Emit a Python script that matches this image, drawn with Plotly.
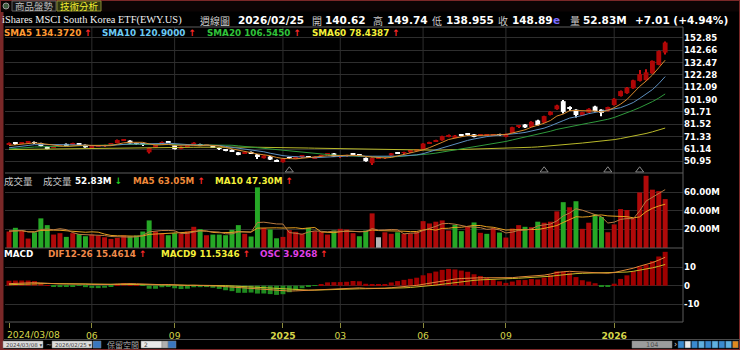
import numpy as np
import plotly.graph_objects as go

W, H = 740, 350

# ---------------- data ----------------
prior_close = [60.5, 61.0, 62.5, 61.5, 60.0, 59.5, 57.5, 58.5, 57.0, 58.0, 58.5, 60.0,
               59.5, 61.0, 59.5, 58.5, 59.5, 59.0, 61.0, 61.5, 63.0, 63.5, 64.5, 62.5,
               63.5, 62.0, 65.0, 64.5, 65.0, 63.0, 61.5, 59.5, 60.5, 61.5, 60.0, 61.0,
               58.5, 58.0, 57.0, 58.5, 56.5, 55.0, 58.5, 58.5, 60.5, 60.5, 60.0, 60.5,
               62.0, 63.0, 63.5, 61.0, 60.5, 58.5, 59.5, 62.0, 62.5, 63.5, 64.0, 64.9]
prior_volume = [19.5, 17.0, 22.0, 16.5, 18.0, 20.5, 15.5, 17.5, 19.0]

opens = [65.3, 66.2, 65.8, 66.5, 66.9, 66.1, 63.3, 62.5, 63.4, 65.4, 65.2, 65.9, 64.6, 62.8,
         63.2, 63.9, 65.3, 66.1, 68.3, 68.1, 65.9, 65.5, 58.5, 62.4, 65.7, 67.0, 64.3, 61.3,
         63.5, 64.3, 65.2, 64.0, 63.4, 62.0, 61.0, 60.5, 58.5, 57.6, 58.8, 56.7, 53.6, 55.0,
         52.2, 50.3, 54.4, 53.4, 54.9, 55.0, 53.8, 55.6, 56.8, 57.6, 54.9, 55.5, 57.6, 56.9,
         53.9, 49.5, 53.8, 54.0, 55.9, 58.3, 58.1, 59.0, 60.3, 61.1, 65.9, 67.8, 68.4, 71.2,
         71.0, 72.9, 73.3, 73.3, 72.6, 72.4, 72.6, 73.4, 71.2, 74.4, 79.7, 81.4, 79.4, 84.7,
         83.0, 89.3, 94.0, 100.6, 95.1, 93.6, 88.9, 91.2, 96.2, 93.6, 92.5, 97.4, 104.8, 107.2,
         111.2, 117.3, 118.0, 123.6, 130.5, 140.62]
highs = [66.5, 66.7, 66.9, 67.3, 67.4, 66.4, 63.7, 63.5, 64.6, 65.8, 66.3, 66.2, 64.9, 63.6,
         63.9, 64.7, 66.2, 69.0, 69.3, 68.4, 66.3, 65.9, 62.3, 64.9, 67.3, 67.4, 64.6, 63.5,
         64.4, 66.8, 65.6, 64.8, 63.8, 62.4, 61.3, 60.9, 58.8, 58.6, 59.2, 57.2, 56.1, 55.4,
         52.6, 53.4, 54.8, 55.0, 55.6, 55.4, 55.2, 56.5, 57.7, 57.9, 55.9, 56.5, 57.9, 57.2,
         54.3, 54.5, 54.5, 54.9, 58.0, 58.6, 59.0, 59.9, 61.3, 66.0, 67.1, 68.8, 72.1, 73.2,
         72.7, 73.6, 73.9, 73.6, 73.5, 73.3, 73.6, 73.8, 74.0, 79.5, 80.9, 81.9, 84.0, 85.3,
         88.6, 92.4, 97.6, 101.6, 96.4, 94.0, 92.0, 94.8, 96.8, 94.0, 96.1, 103.0, 109.3, 112.2,
         118.2, 126.2, 127.0, 134.2, 142.3, 149.74]
lows = [64.9, 65.3, 65.6, 66.2, 66.0, 63.2, 61.0, 62.1, 63.1, 63.9, 64.9, 65.0, 62.3, 62.4,
        62.9, 63.6, 65.0, 65.9, 68.0, 65.5, 65.0, 64.5, 57.6, 62.2, 65.4, 66.3, 60.8, 61.0,
        63.2, 64.1, 63.6, 63.7, 62.3, 61.0, 59.3, 58.8, 56.0, 57.3, 57.1, 52.9, 53.3, 52.2,
        50.8, 50.0, 53.6, 53.1, 54.6, 54.2, 53.2, 55.3, 56.5, 54.6, 54.6, 55.2, 56.7, 55.2,
        50.8, 48.0, 53.3, 53.7, 55.6, 57.2, 57.8, 58.7, 60.0, 60.9, 65.6, 67.4, 68.1, 70.9,
        70.6, 71.8, 72.6, 70.9, 72.3, 72.1, 72.3, 72.5, 70.9, 74.2, 79.3, 78.6, 79.1, 80.5,
        82.6, 88.9, 93.5, 90.5, 92.6, 87.1, 88.5, 90.8, 92.1, 88.2, 92.2, 97.0, 104.4, 106.8,
        110.8, 116.9, 117.6, 123.2, 130.1, 138.955]
closes = [65.9, 65.6, 66.4, 66.9, 66.3, 63.6, 61.8, 63.0, 64.2, 64.1, 65.8, 65.3, 62.6, 63.2,
          63.6, 64.4, 65.9, 68.6, 68.9, 65.8, 65.4, 64.9, 62.0, 64.6, 67.0, 66.6, 61.1, 63.2,
          64.1, 66.4, 64.1, 64.4, 62.6, 61.3, 59.6, 59.1, 56.3, 58.2, 57.4, 54.6, 55.8, 52.5,
          51.1, 53.1, 54.0, 54.7, 55.3, 54.6, 54.9, 56.2, 57.4, 54.9, 55.6, 56.2, 57.0, 55.5,
          51.2, 53.9, 53.9, 54.6, 57.7, 57.5, 58.7, 59.6, 61.0, 65.7, 66.7, 68.4, 71.8, 72.6,
          72.3, 72.1, 73.1, 71.2, 73.1, 72.9, 73.3, 72.8, 73.7, 79.2, 80.3, 79.0, 83.6, 80.9,
          88.3, 91.9, 97.1, 91.8, 94.8, 89.2, 91.6, 94.3, 92.5, 91.0, 95.8, 102.6, 108.9, 111.7,
          117.8, 122.9, 124.4, 133.8, 141.88, 148.89]
volumes = [17.8, 21.8, 18.5, 10.2, 17.0, 32.0, 24.7, 14.5, 16.0, 12.0, 16.0, 15.0, 12.7, 14.5,
           13.5, 11.6, 9.8, 10.9, 13.5, 12.7, 13.5, 17.8, 29.8, 17.8, 15.6, 13.8, 16.0, 15.6,
           17.8, 22.9, 20.4, 13.8, 14.5, 14.5, 13.8, 19.6, 24.7, 15.3, 12.4, 65.5, 21.5, 20.0,
           10.5, 12.0, 19.3, 17.5, 15.3, 21.8, 18.2, 17.5, 14.5, 18.9, 20.7, 20.0, 16.0, 12.7,
           18.9, 37.4, 11.6, 17.0, 15.3, 17.0, 15.3, 15.6, 17.5, 29.0, 26.5, 28.4, 29.8, 18.9,
           25.0, 18.2, 22.9, 27.6, 16.4, 15.3, 21.5, 16.7, 11.3, 21.0, 24.7, 22.9, 22.5, 28.4,
           27.3, 28.4, 39.6, 49.5, 44.0, 50.5, 20.7, 27.3, 36.4, 33.5, 17.0, 25.5, 42.0, 41.0,
           32.3, 60.0, 78.0, 63.0, 61.4, 52.83]

tick_idx = [0, 13, 26, 43, 52, 65, 78, 95]
tick_text = ["", "06", "09", "<b>2025</b>", "03", "06", "09", "<b>2026</b>"]
first_label = "2024/03/08"
grid_idx = [13, 26, 43, 52, 65, 78, 95]
price_ticks = [50.95, 61.14, 71.33, 81.52, 91.71, 101.90, 112.09, 122.28, 132.47, 142.66, 152.85]
vol_ticks = [20, 40, 60]
macd_ticks = [-10, 0, 10]
event_idx = [44, 84, 94, 99]

# ---------------- computations ----------------
n = len(closes)
idx = np.arange(n)
O = np.array(opens); Hh = np.array(highs); L = np.array(lows); C = np.array(closes)
V = np.array(volumes)
allc = np.array(prior_close + closes)
alldi = np.array(prior_close + list((Hh + L + 2 * C) / 4))
allv = np.array(prior_volume + volumes)


def sma(a, k):
    return np.convolve(a, np.ones(k) / k, mode="valid")[-n:]


def ema(a, k):
    al = 2.0 / (k + 1)
    out = np.empty(len(a))
    out[0] = a[0]
    for i in range(1, len(a)):
        out[i] = out[i - 1] + al * (a[i] - out[i - 1])
    return out


sma5, sma10, sma20, sma60 = sma(allc, 5), sma(allc, 10), sma(allc, 20), sma(allc, 60)
vma5, vma10 = sma(allv, 5), sma(allv, 10)
dif_all = ema(alldi, 12) - ema(alldi, 26)
sig_all = ema(dif_all, 9)
dif = dif_all[-n:]
sig = sig_all[-n:]
osc = dif - sig

prev_c = np.concatenate([[prior_close[-1]], C[:-1]])

RED_BODY = "#b00606"
RED_WICK = "#cc1010"
up = C > O
body_col = [RED_BODY if u else "#ffffff" for u in up]
wick_col = [RED_WICK if u else "#ffffff" for u in up]
body_base = np.minimum(O, C)
body_h = np.maximum(np.abs(C - O), 0.6)

vol_col = []
for c, p in zip(C, prev_c):
    if abs(c - p) < 1e-9:
        vol_col.append("#b4b4b4")
    elif c > p:
        vol_col.append("#b00a0a")
    else:
        vol_col.append("#26a826")
osc_col = ["#a00000" if v >= 0 else "#1f8a1f" for v in osc]

fig = go.Figure()
# price panel
fig.add_trace(go.Bar(x=idx, y=Hh - L, base=L, width=0.16, marker=dict(color=wick_col, line=dict(width=0)),
                     xaxis="x", yaxis="y", hoverinfo="skip"))
fig.add_trace(go.Bar(x=idx, y=body_h, base=body_base, width=0.76, marker=dict(color=body_col, line=dict(width=0)),
                     xaxis="x", yaxis="y", hoverinfo="skip"))
for s, col in [(sma60, "#b9b92a"), (sma20, "#2f9a3c"), (sma10, "#5d8fbf"), (sma5, "#d98a2c")]:
    fig.add_trace(go.Scatter(x=idx, y=s, mode="lines", line=dict(color=col, width=1), xaxis="x", yaxis="y",
                             hoverinfo="skip"))
fig.add_trace(go.Scatter(x=event_idx, y=[43.7] * len(event_idx), mode="markers",
                         marker=dict(symbol="triangle-up-open", size=7, color="#8a8a8a", line=dict(width=1)),
                         xaxis="x", yaxis="y", hoverinfo="skip"))
# volume panel
fig.add_trace(go.Bar(x=idx, y=V, width=0.78, marker=dict(color=vol_col, line=dict(width=0)), xaxis="x", yaxis="y2",
                     hoverinfo="skip"))
fig.add_trace(go.Scatter(x=idx, y=vma10, mode="lines", line=dict(color="#e8a020", width=1), xaxis="x", yaxis="y2"))
fig.add_trace(go.Scatter(x=idx, y=vma5, mode="lines", line=dict(color="#b87a40", width=1), xaxis="x", yaxis="y2"))
# macd panel (hist on base axis y3, lines on overlay y4)
fig.add_trace(go.Bar(x=idx, y=osc, width=0.78, marker=dict(color=osc_col, line=dict(width=0)), xaxis="x", yaxis="y3",
                     hoverinfo="skip"))
fig.add_trace(go.Scatter(x=idx, y=sig, mode="lines", line=dict(color="#c8b828", width=1), xaxis="x", yaxis="y4"))
fig.add_trace(go.Scatter(x=idx, y=dif, mode="lines", line=dict(color="#e08838", width=1), xaxis="x", yaxis="y4"))


def py(y):
    return 1 - y / H


def px(x):
    return x / W


TOP, P1, P2, BOT = 27, 173, 248, 322
LEFT, RIGHT = 5, 683
MACD_RANGE = [-19.8, 20.5]
HIST_SCALE = 4.7

tickf = dict(color="white", size=8.6, family="DejaVu Sans", weight="bold")
grid = "#2e2e2e"
fig.update_layout(
    width=W, height=H, margin=dict(l=0, r=0, t=0, b=0),
    paper_bgcolor="black", plot_bgcolor="black", showlegend=False, barmode="overlay",
    xaxis=dict(domain=[px(LEFT), px(RIGHT)], range=[-0.63, 105.8], anchor="y3",
               tickvals=tick_idx, ticktext=tick_text, ticks="outside", ticklen=5, tickcolor="#8c8c3c",
               tickfont=dict(color="#d6d64a", size=9.2, family="DejaVu Sans"),
               showgrid=False, zeroline=False, showline=False, fixedrange=True),
    yaxis=dict(domain=[py(P1), py(TOP)], anchor="x", side="right", range=[41.45, 161.7],
               tickvals=price_ticks, ticktext=["%.2f" % v for v in price_ticks], tickfont=tickf,
               showgrid=True, gridcolor=grid, gridwidth=1, zeroline=False, ticks=""),
    yaxis2=dict(domain=[py(P2), py(P1)], anchor="x", side="right", range=[0, 81],
                tickvals=vol_ticks, ticktext=["%.2fM" % v for v in vol_ticks], tickfont=tickf,
                showgrid=True, gridcolor=grid, zeroline=False, ticks=""),
    yaxis3=dict(domain=[py(BOT), py(P2)], anchor="x", side="right",
                range=[MACD_RANGE[0] / HIST_SCALE, MACD_RANGE[1] / HIST_SCALE],
                showticklabels=False, showgrid=False, zeroline=False, ticks=""),
    yaxis4=dict(overlaying="y3", anchor="x", side="right", range=MACD_RANGE,
                tickvals=macd_ticks, ticktext=[str(v) for v in macd_ticks], tickfont=tickf,
                showgrid=True, gridcolor=grid, zeroline=False, ticks=""),
)

shapes = []
for g in grid_idx:
    shapes.append(dict(type="line", xref="x", yref="paper", x0=g, x1=g, y0=py(BOT), y1=py(TOP),
                       line=dict(color=grid, width=1), layer="below"))
for yy in [TOP, P1, P2, BOT]:
    shapes.append(dict(type="line", xref="paper", yref="paper", x0=px(LEFT), x1=px(RIGHT), y0=py(yy), y1=py(yy),
                       line=dict(color="#5c5c5c", width=1)))
shapes.append(dict(type="line", xref="paper", yref="paper", x0=px(RIGHT), x1=px(RIGHT), y0=py(BOT), y1=py(TOP),
                   line=dict(color="#5c5c5c", width=1)))
# frame
shapes.append(dict(type="line", xref="paper", yref="paper", x0=px(2), x1=px(2), y0=py(350), y1=py(12),
                   line=dict(color="#7a2828", width=3)))
shapes.append(dict(type="rect", xref="paper", yref="paper", x0=0, x1=1, y0=0, y1=1,
                   line=dict(color="#7a2828", width=2)))
# top tabs
shapes.append(dict(type="rect", xref="paper", yref="paper", x0=px(0), x1=px(740), y0=py(11.5), y1=py(0),
                   fillcolor="#0c0404", line=dict(width=0), layer="below"))
shapes.append(dict(type="circle", xref="paper", yref="paper", x0=px(3), x1=px(9), y0=py(9), y1=py(3),
                   fillcolor="#3c5c3c", line=dict(color="#9a9a9a", width=1)))
shapes.append(dict(type="rect", xref="paper", yref="paper", x0=px(12), x1=px(56), y0=py(11), y1=py(1),
                   fillcolor="#141414", line=dict(color="#606060", width=1)))
shapes.append(dict(type="rect", xref="paper", yref="paper", x0=px(57), x1=px(101), y0=py(11), y1=py(1),
                   fillcolor="#2c3410", line=dict(color="#8a8a30", width=1)))
# bottom toolbar
shapes.append(dict(type="line", xref="paper", yref="paper", x0=px(4), x1=px(740), y0=py(339.5), y1=py(339.5),
                   line=dict(color="#4a4a4a", width=1)))
for x0, x1, fc in [(3, 43, "#dcdcdc"), (52, 92, "#dcdcdc"), (93, 101, "#3a78c0"), (141, 162, "#e8e8e8"),
                   (162, 168, "#b0b0b0"), (168, 176, "#3a78c0"), (632, 672, "#9c9c9c")]:
    shapes.append(dict(type="rect", xref="paper", yref="paper", x0=px(x0), x1=px(x1), y0=py(348), y1=py(341),
                       fillcolor=fc, line=dict(color="#808080", width=0.5)))
icon_cols = ["#3a8ad0", "#e8e8e8", "#3a8ad0", "#60b0e0", "#3a8ad0", "#60b0e0", "#3a8ad0", "#60b0e0", "#e08a20"]
for k, fc in enumerate(icon_cols):
    x0 = 678 + k * 6.8
    shapes.append(dict(type="rect", xref="paper", yref="paper", x0=px(x0), x1=px(x0 + 6), y0=py(348), y1=py(341),
                       fillcolor=fc, line=dict(color="#204060", width=0.5)))

ann = []
CJK = "Noto Sans CJK TC"
SANS = "DejaVu Sans"


def txt(x, y, s, color, size, family=SANS, bold=False, anchor="left"):
    ann.append(dict(x=px(x), y=py(y), xref="paper", yref="paper", text=s, showarrow=False,
                    xanchor=anchor, yanchor="middle", borderpad=0,
                    font=dict(color=color, size=size, family=family, weight="bold" if bold else "normal")))


UP = ' <span style="color:#ff2a2a">↑</span>'
DOWN = ' <span style="color:#22cc22">↓</span>'

txt(14, 6, "商品盤勢", "#bcbcbc", 9.5, CJK)
txt(59, 6, "技術分析", "#f4f030", 9.5, CJK)

txt(1, 20, "iShares MSCI South Korea ETF(EWY.US)", "#f0f0f0", 10.4, "Liberation Serif")
txt(199, 20, "週線圖", "#d0d0d0", 10, CJK)
txt(237, 20, "2026/02/25", "#ffffff", 10.5, SANS, True)
for x, s in [(311, "開"), (372, "高"), (431, "低"), (497, "收"), (569, "量")]:
    txt(x, 20, s, "#c8c8c8", 10, CJK)
for x, s in [(324, "140.62"), (386, "149.74"), (445, "138.955"), (511, "148.89"), (582, "52.83M"),
             (634, "+7.01 (+4.94%)")]:
    txt(x, 20, s, "#ffffff", 10.5, SANS, True)
txt(552, 20, "e", "#7a6cff", 10.5, SANS, True)

txt(3, 33, "SMA5 134.3720" + UP, "#ff9a33", 8.8, SANS, True)
txt(101, 33, "SMA10 120.9000" + UP, "#6ccaf4", 8.8, SANS, True)
txt(206, 33, "SMA20 106.5450" + UP, "#30c43a", 8.8, SANS, True)
txt(311, 33, "SMA60 78.4387" + UP, "#f4f03a", 8.8, SANS, True)

txt(3, 180.5, "成交量", "#c8c8c8", 9.5, CJK)
txt(42, 180.5, "成交量", "#c8c8c8", 9.5, CJK)
txt(74, 180.5, "52.83M" + DOWN, "#ffffff", 8.8, SANS, True)
txt(132, 180.5, "MA5 63.05M" + UP, "#f08a3a", 8.8, SANS, True)
txt(214, 180.5, "MA10 47.30M" + UP, "#f4f03a", 8.8, SANS, True)

txt(3, 254.5, "MACD", "#ffffff", 8.8, SANS, True)
txt(47, 254.5, "DIF12-26 15.4614" + UP, "#f08a4a", 8.8, SANS, True)
txt(160, 254.5, "MACD9 11.5346" + UP, "#f4f03a", 8.8, SANS, True)
txt(259, 254.5, "OSC 3.9268" + UP, "#e040e8", 8.8, SANS, True)

# first x label (left-aligned at its tick, as in the reference)
txt(6, 334, first_label, "#d6d64a", 9.2, SANS)

# toolbar texts
txt(5, 344.5, "2024/03/08 ▾", "#404040", 5.5, SANS)
txt(45, 344.5, "~", "#c0c0c0", 7, SANS)
txt(54, 344.5, "2026/02/25 ▾", "#404040", 5.5, SANS)
txt(106, 344.5, "保留空間", "#a8a8a8", 8, CJK)
txt(143, 344.5, "2", "#404040", 6, SANS)
txt(652, 344.5, "104", "#505050", 6.5, SANS, anchor="center")
txt(673, 344.5, "›", "#d0d0d0", 8, SANS)

fig.update_layout(shapes=shapes, annotations=ann)
fig.write_html("out.html")
